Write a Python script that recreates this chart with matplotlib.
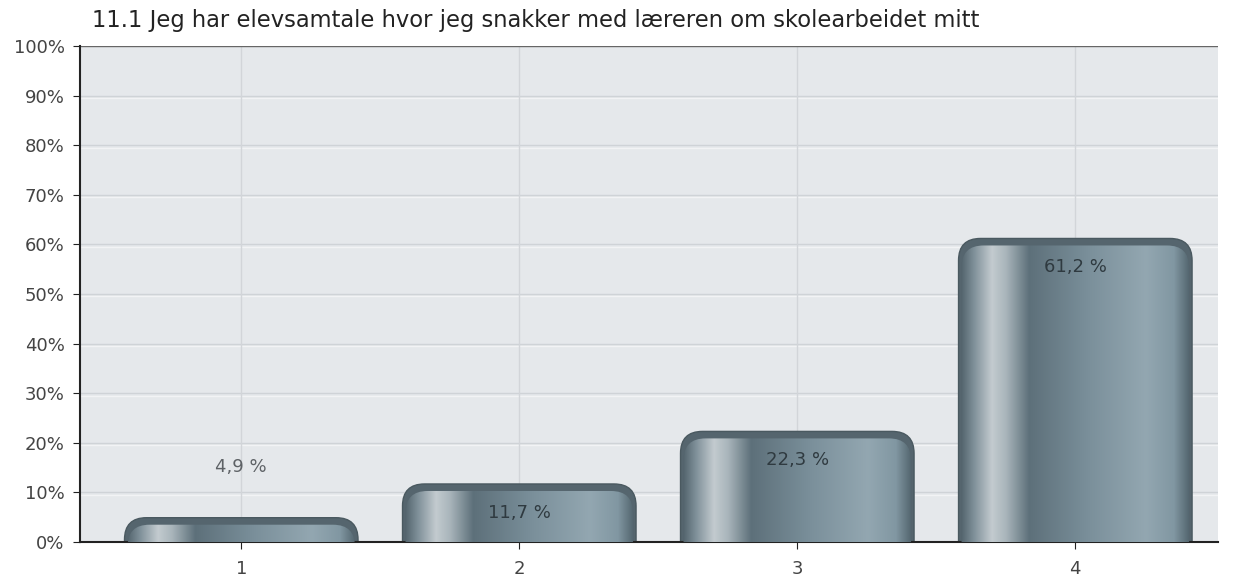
import numpy as np
import matplotlib
matplotlib.use("Agg")
import matplotlib.pyplot as plt
from matplotlib.patches import FancyBboxPatch
from matplotlib.colors import LinearSegmentedColormap

# data
categories = ["1", "2", "3", "4"]
values = [4.9, 11.7, 22.3, 61.2]
labels = ["4,9 %", "11,7 %", "22,3 %", "61,2 %"]
title = "11.1 Jeg har elevsamtale hvor jeg snakker med læreren om skolearbeidet mitt"

plt.rcParams["font.family"] = ["DejaVu Sans"]

fig = plt.figure(figsize=(12.33, 5.79), dpi=100)
ax = fig.add_axes([0.0649, 0.0639, 0.9231, 0.8566])
ax.set_facecolor("#e5e8eb")

x = np.arange(1, len(categories) + 1)
ax.set_xlim(0.42, 4.514)
ax.set_ylim(0, 100)

# grid
for yv in range(10, 100, 10):
    ax.axhline(yv, color="#cfd3d7", lw=1, zorder=0.5)
    ax.axhline(yv - 0.5, color="#f2f3f5", lw=1, zorder=0.4)
for xv in x:
    ax.axvline(xv, color="#d2d5d9", lw=1, zorder=0.5)

bar_cmap = LinearSegmentedColormap.from_list("metal", [
    (0.0, "#4c5d66"), (0.06, "#7d8e97"), (0.14, "#c3cbcf"), (0.2, "#a9b5bb"),
    (0.3, "#5d707a"), (0.55, "#7a8f9a"), (0.8, "#93a7b1"), (0.92, "#8197a2"),
    (1.0, "#4a5b64")])
grad = np.linspace(0, 1, 256).reshape(1, -1)

width = 0.84
# px per data unit
px_x = 278.0
px_y = 4.96
r_px = 22
aspect = (r_px / px_y) / (r_px / px_x)

for xi, v, lab in zip(x, values, labels):
    left = xi - width / 2
    outer = FancyBboxPatch((left, -20), width, v + 20,
                           boxstyle="round,pad=0,rounding_size=%f" % (r_px / px_x),
                           mutation_aspect=aspect, fc="#55656e", ec="#4a5960",
                           lw=1, zorder=2)
    ax.add_patch(outer)
    inset = 7 / px_y
    inner = FancyBboxPatch((left + 3 / px_x, -20), width - 6 / px_x, v + 20 - inset,
                           boxstyle="round,pad=0,rounding_size=%f" % (r_px / px_x),
                           mutation_aspect=aspect, fc="none", ec="none", zorder=3)
    ax.add_patch(inner)
    im = ax.imshow(grad, cmap=bar_cmap, aspect="auto",
                   extent=(left, left + width, 0, v - inset), zorder=3)
    im.set_clip_path(inner)
    if v < 8:
        ax.text(xi, v + 10.2, lab, ha="center", va="center", fontsize=13,
                color="#5e6266", zorder=4)
    else:
        ax.text(xi, v - 5.8, lab, ha="center", va="center", fontsize=13,
                color="#2f3a40", zorder=4)

ax.set_xticks(x)
ax.set_xticklabels(categories)
ax.set_yticks(range(0, 101, 10))
ax.set_yticklabels([f"{t}%" for t in range(0, 101, 10)])
ax.tick_params(axis="both", labelsize=13, colors="#222222", length=5,
               labelcolor="#444444")
ax.tick_params(axis="y", pad=6)
ax.tick_params(axis="x", pad=8)

for s in ["top", "right"]:
    ax.spines[s].set_visible(False)
ax.spines["left"].set_color("#222222")
ax.spines["bottom"].set_color("#222222")
ax.spines["left"].set_linewidth(1.5)
ax.spines["bottom"].set_linewidth(1.5)
ax.axhline(100, color="#666666", lw=1, zorder=1)

fig.text(92 / 1233, 1 - 21 / 579, title, fontsize=16.3, color="#222222",
         ha="left", va="center")

fig.savefig("out.png", dpi=100)
